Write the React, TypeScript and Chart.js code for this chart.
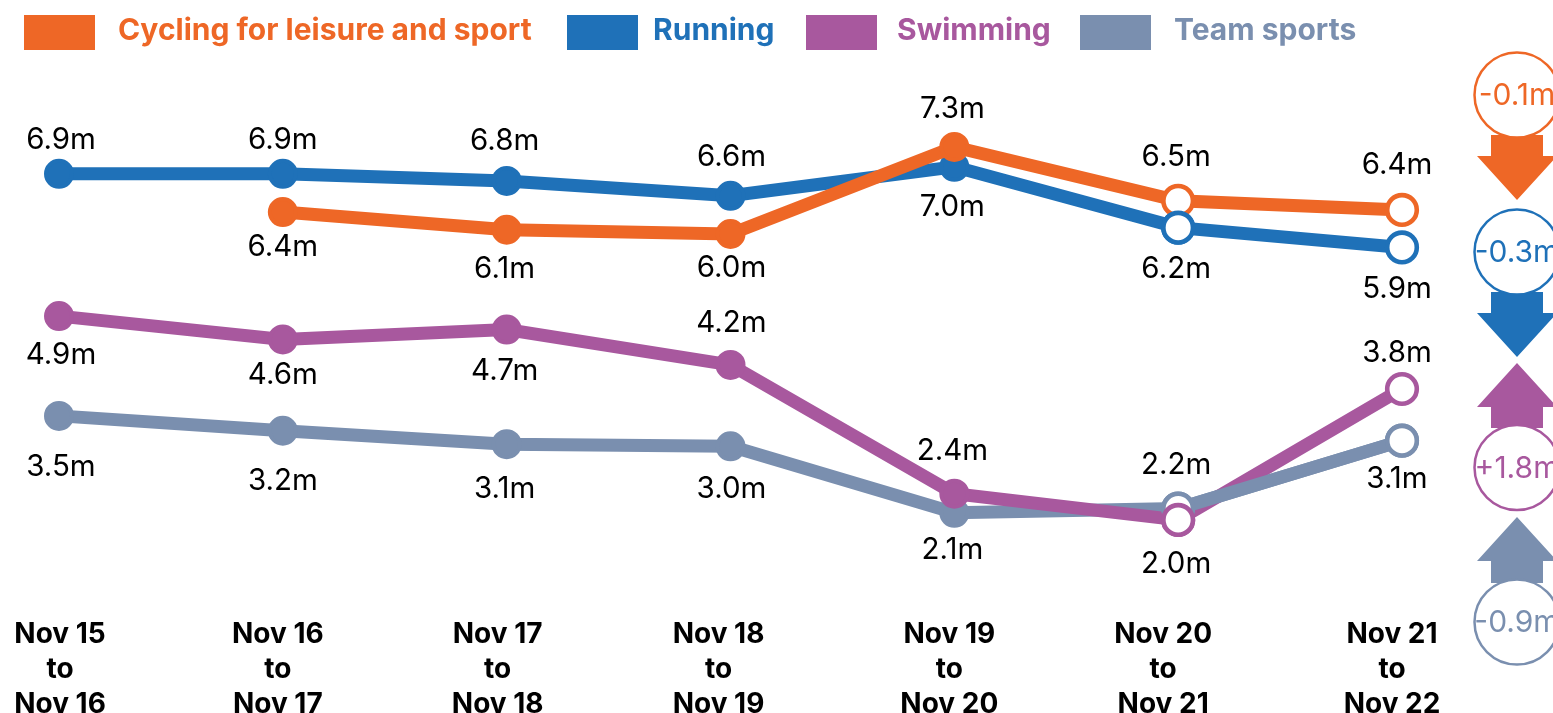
import React, { useEffect, useRef } from "react";
import { Chart, registerables } from "chart.js";

Chart.register(...registerables);

const FONT = "Inter";

const categories = ["Nov 15 to Nov 16", "Nov 16 to Nov 17", "Nov 17 to Nov 18", "Nov 18 to Nov 19", "Nov 19 to Nov 20", "Nov 20 to Nov 21", "Nov 21 to Nov 22"];
const tickLines = [
  ["Nov 15", "to", "Nov 16"],
  ["Nov 16", "to", "Nov 17"],
  ["Nov 17", "to", "Nov 18"],
  ["Nov 18", "to", "Nov 19"],
  ["Nov 19", "to", "Nov 20"],
  ["Nov 20", "to", "Nov 21"],
  ["Nov 21", "to", "Nov 22"],
];

const seriesNames = ["Cycling for leisure and sport", "Running", "Swimming", "Team sports"];
const seriesColors = ["#EE6726", "#1F71B8", "#A8589E", "#7A8FAF"];

const cycling = [null, 6.36, 6.11, 6.05, 7.28, 6.52, 6.39];
const running = [6.9, 6.9, 6.8, 6.59, 7.0, 6.14, 5.86];
const swimming = [4.89, 4.56, 4.7, 4.2, 2.38, 2.01, 3.86];
const teamSports = [3.48, 3.27, 3.08, 3.05, 2.11, 2.17, 3.13];

const cyclingLabels = ["", "6.4m", "6.1m", "6.0m", "7.3m", "6.5m", "6.4m"];
const runningLabels = ["6.9m", "6.9m", "6.8m", "6.6m", "7.0m", "6.2m", "5.9m"];
const swimmingLabels = ["4.9m", "4.6m", "4.7m", "4.2m", "2.4m", "2.0m", "3.8m"];
const teamLabels = ["3.5m", "3.2m", "3.1m", "3.0m", "2.1m", "2.2m", "3.1m"];

const changeLabels = ["-0.1m", "-0.3m", "+1.8m", "-0.9m"];

// Layout
const labelDx = [2, 0, -2, 1, -2, -2, -5];
const cyclingDy = [0, 34, 38, 33, -39, -45, -46];
const runningDy = [-35, -35, -41, -40, 39, 40, 41];
const swimmingDy = [38, 35, 41, -43, -44, 43, -37];
const teamDy = [50, 49, 44, 42, 36, -44, 37];
const tickDx = [1, -5, -9, -12, -5, -15, -10];
const legendSlots = [
  { box: 24, text: 118 },
  { box: 567, text: 653 },
  { box: 806, text: 897 },
  { box: 1080, text: 1174 },
];
const badgeSlots = [
  { cy: 95, top: 135, neck: 156, tip: 200 },
  { cy: 252, top: 292, neck: 313, tip: 357 },
  { cy: 467.5, top: 428, neck: 407, tip: 363 },
  { cy: 622, top: 583, neck: 561, tip: 517 },
];

const hollowFrom = 5;

function makeDataset(i: number, data: (number | null)[], labels: string[], dy: number[]) {
  const c = seriesColors[i];
  return {
    label: seriesNames[i],
    data,
    labelTexts: labels,
    labelDy: dy,
    borderColor: c,
    backgroundColor: c,
    borderWidth: 13,
    tension: 0,
    clip: false,
    pointBorderColor: c,
    pointBorderWidth: data.map((_, k) => (k >= hollowFrom ? 4.6 : 4)),
    pointRadius: data.map((_, k) => (k >= hollowFrom ? 14.8 : 13)),
    pointBackgroundColor: data.map((_, k) => (k >= hollowFrom ? "#ffffff" : c)),
    xAxisID: "x",
    yAxisID: "y",
  };
}

// Stacking in the reference differs per point / segment: redraw the library's own elements in that order.
const stackingPlugin = {
  id: "stacking",
  afterDatasetsDraw(chart: any) {
    const { ctx, chartArea } = chart;
    const swim = chart.getDatasetMeta(2);
    const team = chart.getDatasetMeta(3);
    const run = chart.getDatasetMeta(1);
    ctx.save();
    ctx.beginPath();
    ctx.rect(team.data[5].x, 0, team.data[6].x - team.data[5].x, chart.height);
    ctx.clip();
    team.dataset.draw(ctx, chartArea);
    ctx.restore();
    team.data[5].draw(ctx, chartArea);
    team.data[6].draw(ctx, chartArea);
    swim.data[5].draw(ctx, chartArea);
    run.data[5].draw(ctx, chartArea);
  },
};

const decorPlugin = {
  id: "decor",
  afterDraw(chart: any) {
    const { ctx } = chart;
    ctx.save();
    // legend
    chart.data.datasets.forEach((ds: any, i: number) => {
      const s = legendSlots[i];
      ctx.fillStyle = ds.borderColor;
      ctx.fillRect(s.box, 15, 71, 35);
      ctx.font = `700 30px ${FONT}`;
      ctx.textAlign = "left";
      ctx.textBaseline = "middle";
      ctx.fillText(ds.label, s.text, 31);
    });
    // point labels
    ctx.font = `400 29.5px ${FONT}`;
    ctx.fillStyle = "#000000";
    ctx.textAlign = "center";
    ctx.textBaseline = "middle";
    chart.data.datasets.forEach((ds: any, i: number) => {
      const meta = chart.getDatasetMeta(i);
      meta.data.forEach((pt: any, k: number) => {
        if (!ds.labelTexts[k]) return;
        ctx.fillText(ds.labelTexts[k], pt.x + labelDx[k], pt.y + ds.labelDy[k] + 1);
      });
    });
    // change badges
    const cx = 1517;
    badgeSlots.forEach((b, i) => {
      const c = seriesColors[i];
      ctx.fillStyle = c;
      ctx.beginPath();
      ctx.moveTo(cx - 26, b.top);
      ctx.lineTo(cx + 26, b.top);
      ctx.lineTo(cx + 26, b.neck);
      ctx.lineTo(cx + 40, b.neck);
      ctx.lineTo(cx, b.tip);
      ctx.lineTo(cx - 40, b.neck);
      ctx.lineTo(cx - 26, b.neck);
      ctx.closePath();
      ctx.fill();
      ctx.beginPath();
      ctx.arc(cx, b.cy, 42.5, 0, Math.PI * 2);
      ctx.fillStyle = "#ffffff";
      ctx.fill();
      ctx.lineWidth = 2.5;
      ctx.strokeStyle = c;
      ctx.stroke();
      ctx.fillStyle = c;
      ctx.font = `400 30px ${FONT}`;
      ctx.textAlign = "center";
      ctx.textBaseline = "middle";
      ctx.fillText(changeLabels[i], cx, b.cy + 1);
    });
    ctx.restore();
  },
};

export default function App() {
  const ref = useRef<HTMLCanvasElement>(null);
  useEffect(() => {
    if (!ref.current) return;
    const chart = new Chart(ref.current, {
      type: "line",
      data: {
        labels: categories,
        datasets: [
          makeDataset(0, cycling, cyclingLabels, cyclingDy),
          makeDataset(1, running, runningLabels, runningDy),
          makeDataset(2, swimming, swimmingLabels, swimmingDy),
          makeDataset(3, teamSports, teamLabels, teamDy),
        ] as any,
      },
      options: {
        animation: false,
        responsive: false,
        devicePixelRatio: 1,
        layout: { padding: { left: 59, right: 151, top: 96, bottom: 0 } },
        plugins: { legend: { display: false }, tooltip: { enabled: false }, title: { display: false } },
        scales: {
          x: { type: "category", display: false, offset: false },
          y: { type: "linear", display: false, min: 1.5, max: 8 },
          ticksAxis: {
            type: "linear",
            position: "bottom",
            min: 0,
            max: 6,
            border: { display: false },
            grid: { display: false, drawTicks: false },
            afterBuildTicks(scale: any) {
              scale.ticks = tickLines.map((_, i) => ({ value: i + tickDx[i] / 223.83 }));
            },
            afterFit(scale: any) {
              scale.height = 157;
              scale.paddingLeft = 0;
              scale.paddingRight = 0;
            },
            ticks: {
              autoSkip: false,
              maxRotation: 0,
              minRotation: 0,
              padding: 61,
              color: "#000000",
              font: { family: FONT, size: 28, weight: "700", lineHeight: 1.25 },
              callback(_v: any, i: number) {
                return tickLines[i];
              },
            },
          },
        },
      } as any,
      plugins: [stackingPlugin, decorPlugin],
    });
    return () => chart.destroy();
  }, []);
  return (
    <div style={{ position: "fixed", left: 0, top: 0, width: 1553, height: 713, overflow: "hidden", background: "#fff" }}>
      <canvas ref={ref} width={1553} height={713} style={{ display: "block" }} />
    </div>
  );
}
